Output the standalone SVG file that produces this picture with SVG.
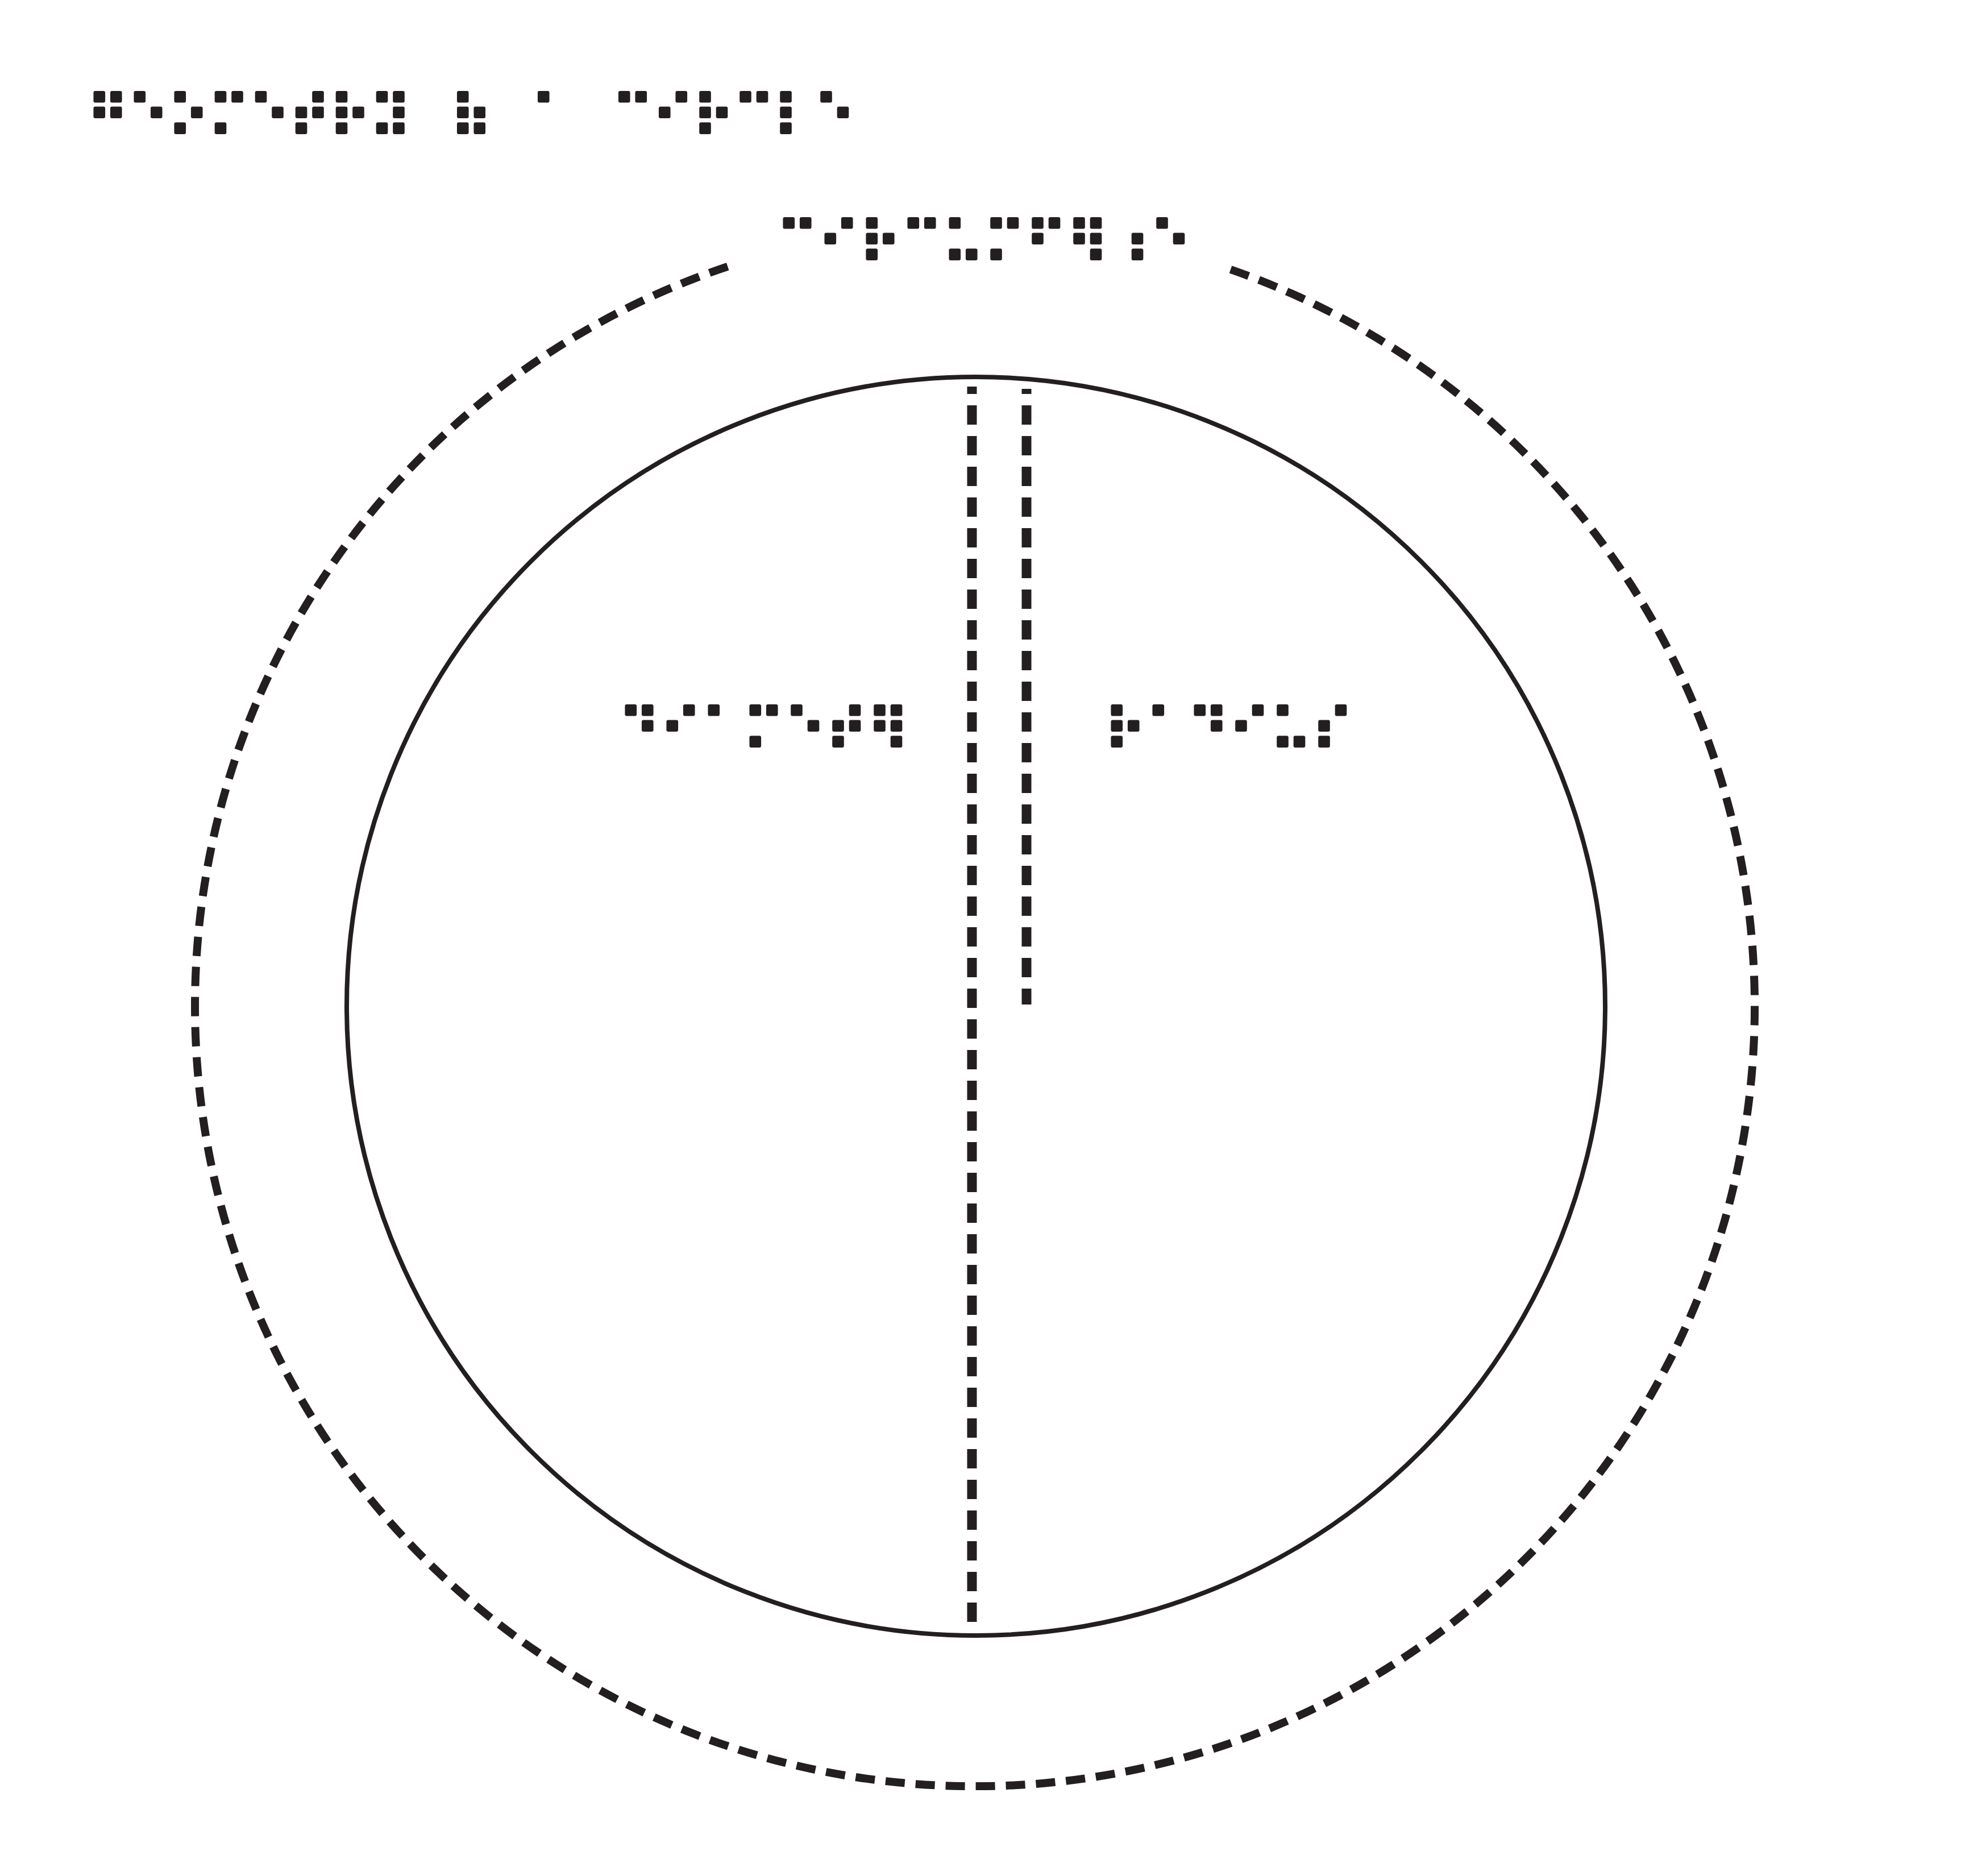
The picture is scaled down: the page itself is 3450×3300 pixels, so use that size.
<svg xmlns="http://www.w3.org/2000/svg" width="3450" height="3300" viewBox="0 0 3450 3300">
<style>
.br{font-family:"DejaVu Sans","DejaVu Sans Mono",sans-serif;font-size:100px;fill:#231f20;stroke:#231f20;stroke-width:6;stroke-linejoin:round}
.dash{fill:none;stroke:#231f20;stroke-width:17;stroke-dasharray:34 20}
</style>
<rect width="3450" height="3300" fill="#ffffff"/>
<g id="title"><text class="br" x="153" y="241" textLength="1352" lengthAdjust="spacing">⠛⠑⠕⠍⠑⠞⠗⠽⠀⠷⠀⠁⠀⠉⠊⠗⠉⠇⠑</text></g>
<g id="circumference">
<path id="outer-circle" d="M2165 474 A1372 1372 0 1 1 1295 464" fill="none" stroke="#231f20" stroke-width="14" stroke-dasharray="34 19"/>
<text class="br" x="1366" y="463" textLength="730" lengthAdjust="spacing">⠉⠊⠗⠉⠥⠍⠋⠻⠰⠑</text>
</g>
<g id="circle"><circle cx="1717" cy="1770" r="1107" fill="none" stroke="#231f20" stroke-width="8"/></g>
<g id="connectors">
<path id="diameter-line" class="dash" d="M1710 680 V2860" stroke-dashoffset="21"/>
<path id="radius-line" class="dash" d="M1806 684 V1767" stroke-dashoffset="25"/>
</g>
<g id="diameter"><text class="br" x="1088" y="1320" textLength="511" lengthAdjust="spacing">⠙⠊⠁⠍⠑⠞⠻</text></g>
<g id="radius"><text class="br" x="1943" y="1320" textLength="438" lengthAdjust="spacing">⠗⠁⠙⠊⠥⠎</text></g>
</svg>
